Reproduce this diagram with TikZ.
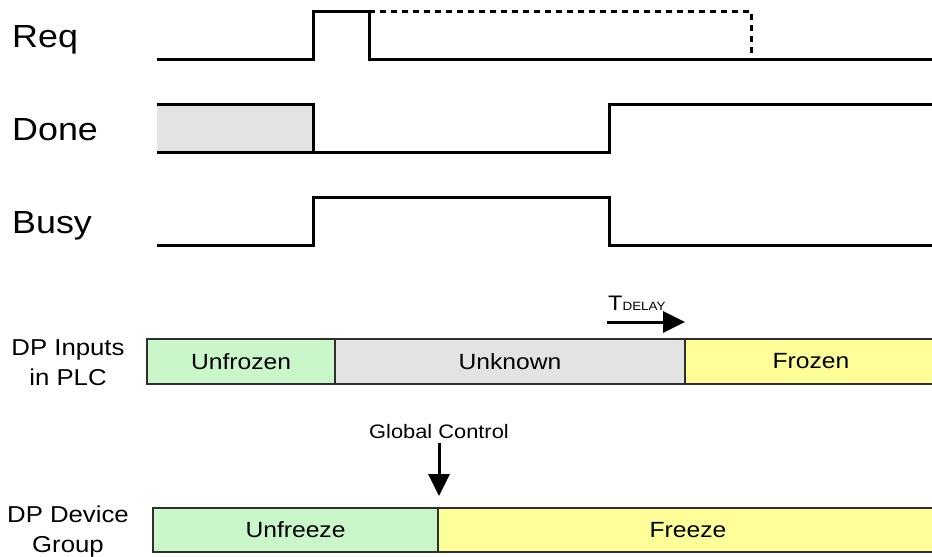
\documentclass[tikz,border=0pt]{standalone}
\usepackage{fontspec}
\setmainfont{Liberation Sans}[FakeStretch=1.12]
\usetikzlibrary{positioning,arrows.meta}
\definecolor{green100} {HTML}{CAF7CA}
\definecolor{grey100}  {HTML}{E3E3E3}
\definecolor{yellow100}{HTML}{FFFF99}
\definecolor{grey800}  {HTML}{2E2E2E}
\tikzset{
  sig/.style   ={line width=3pt, line join=miter},
  sigd/.style  ={line width=3pt, dash pattern=on 6pt off 5pt},
  lbl/.style   ={anchor=base west, inner sep=0pt,
                 font=\fontsize{32}{36}\selectfont},
  grp/.style   ={align=center, inner sep=0pt,
                 font=\fontsize{23}{30}\selectfont},
  seg/.style   ={draw=grey800, line width=2pt, outer sep=0pt, inner sep=0pt,
                 anchor=north west, font=\fontsize{22}{26}\selectfont},
  tag/.style   ={inner sep=0pt, font=\fontsize{19.5}{23}\selectfont},
  ar/.style    ={-{Triangle[length=22pt,width=21pt]}, line width=3pt}
}
\begin{document}
\begin{tikzpicture}[x=1pt,y=-1pt]
\clip (0,0) rectangle (932,557);

% signal names
\node[lbl] (req)  at (12,47)  {Req};
\node[lbl] (done) at (12,140) {Done};
\node[lbl] (busy) at (12,233) {Busy};

% waveforms, in pixel coordinates of the trace
\draw[sig] (157,59) -- (313,59) -- (313,11) -- (369,11) -- (369,59) -- (932,59);
\draw[sigd] (369,11) -- (751,11) -- (751,59);
\fill[grey100] (157,104) rectangle (313,152);
\draw[sig] (157,104) -- (313,104) -- (313,152);
\draw[sig] (157,152) -- (609,152) -- (609,104) -- (932,104);
\draw[sig] (157,245) -- (313,245) -- (313,197) -- (609,197) -- (609,245) -- (932,245);

% DP inputs in PLC
\node[grp] (inp) at (68,363) {DP Inputs\\in PLC};
\node[seg, fill=green100, minimum width=188pt, minimum height=45pt]
  (unf) at (147,339) {Unfrozen};
\node[seg, fill=grey100, minimum width=350pt, minimum height=45pt]
  (unk) at (unf.north east) {Unknown};
\node[seg, fill=yellow100, minimum width=252pt, minimum height=45pt]
  (frz) at (unk.north east) {Frozen};

\node[inner sep=0pt, anchor=base west] (td) at (608,310)
  {\fontsize{21}{24}\selectfont T\fontsize{12}{14}\selectfont DELAY};
\coordinate (tds) at (607,322);
\coordinate (tde) at (685,322);
\draw[ar] (tds) -- (tde);

% DP device group
\node[grp] (dev) at (68,532) {DP Device\\Group};
\node[seg, fill=green100, minimum width=285pt, minimum height=44pt]
  (unfz) at (153,508) {Unfreeze};
\node[seg, fill=yellow100, minimum width=500pt, minimum height=44pt]
  (fz) at (unfz.north east) {Freeze};

\node[tag, anchor=base] (gc) at (439,438) {Global Control};
\coordinate (gce) at (439,496);
\draw[ar] ([yshift=-5pt]gc.south) -- (gce);
\end{tikzpicture}
\end{document}
